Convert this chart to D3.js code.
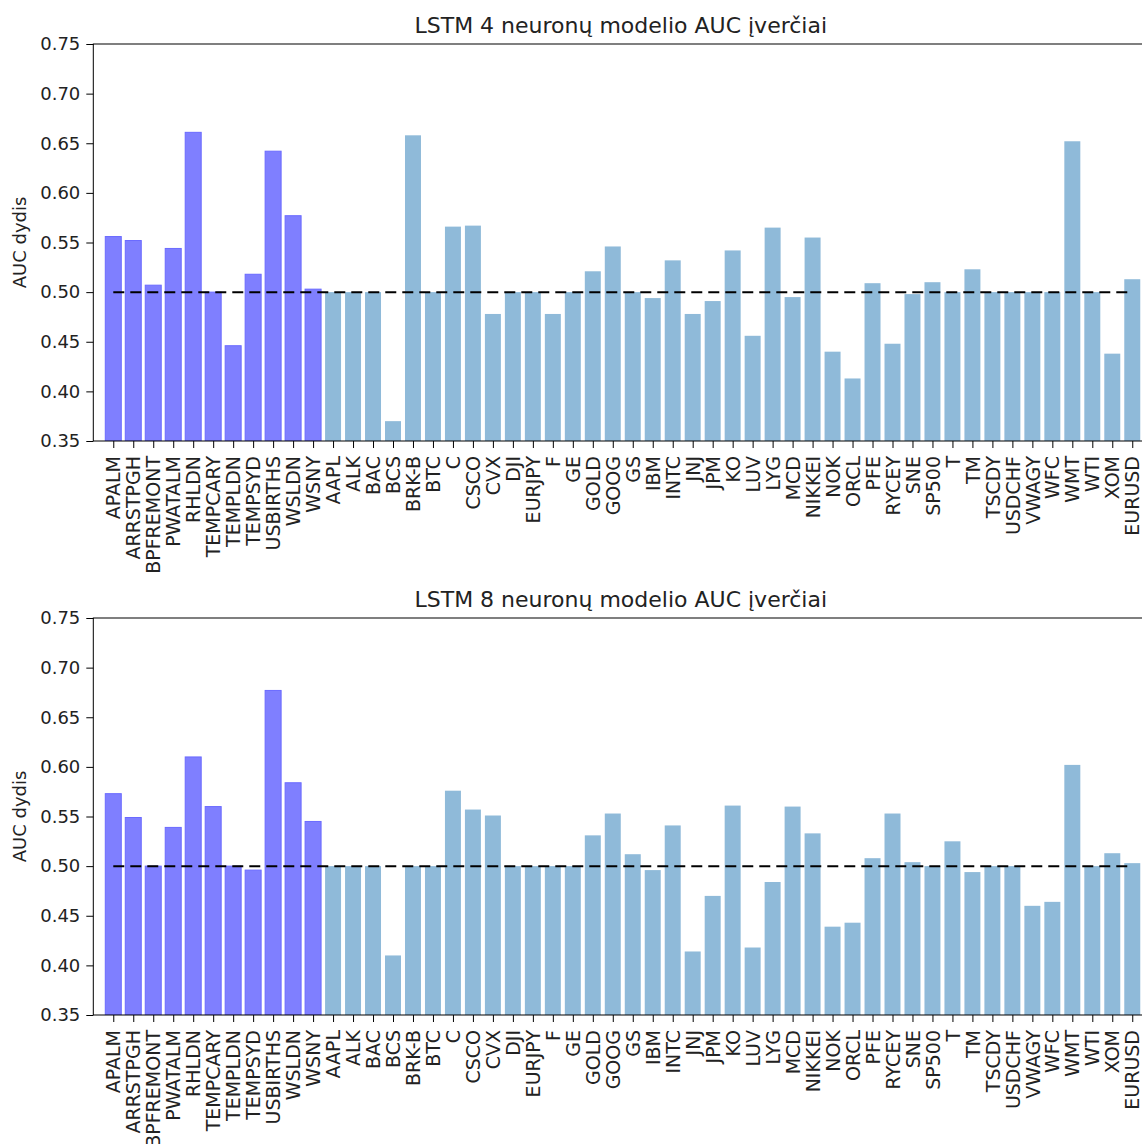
<!DOCTYPE html>
<html>
<head>
<meta charset="utf-8">
<script src="https://cdn.jsdelivr.net/npm/d3@7"></script>
<style>
  body { margin: 0; background: #fff; }
  svg { display: block; font-family: "DejaVu Sans", sans-serif; }
</style>
</head>
<body>
<svg id="chart" width="1142" height="1144"></svg>
<script>
// ---- data ----
const syntheticCats = ["APALM","ARRSTPGH","BPFREMONT","PWATALM","RHLDN","TEMPCARY","TEMPLDN","TEMPSYD","USBIRTHS","WSLDN","WSNY"];
const realCats = ["AAPL","ALK","BAC","BCS","BRK-B","BTC","C","CSCO","CVX","DJI","EURJPY","F","GE","GOLD","GOOG","GS","IBM","INTC","JNJ","JPM","KO","LUV","LYG","MCD","NIKKEI","NOK","ORCL","PFE","RYCEY","SNE","SP500","T","TM","TSCDY","USDCHF","VWAGY","WFC","WMT","WTI","XOM","EURUSD"];

const lstm4Synthetic = [0.556,0.552,0.507,0.544,0.661,0.500,0.446,0.518,0.642,0.577,0.503];
const lstm4Real = [0.500,0.500,0.500,0.370,0.658,0.500,0.566,0.567,0.478,0.500,0.500,0.478,0.500,0.521,0.546,0.500,0.494,0.532,0.478,0.491,0.542,0.456,0.565,0.495,0.555,0.440,0.413,0.509,0.448,0.498,0.510,0.500,0.523,0.500,0.500,0.500,0.500,0.652,0.500,0.438,0.513];

const lstm8Synthetic = [0.573,0.549,0.500,0.539,0.610,0.560,0.500,0.496,0.677,0.584,0.545];
const lstm8Real = [0.500,0.500,0.500,0.410,0.500,0.500,0.576,0.557,0.551,0.500,0.500,0.500,0.500,0.531,0.553,0.512,0.496,0.541,0.414,0.470,0.561,0.418,0.484,0.560,0.533,0.439,0.443,0.508,0.553,0.504,0.500,0.525,0.494,0.500,0.500,0.460,0.464,0.602,0.500,0.513,0.503];

const yTicks = [0.35,0.40,0.45,0.50,0.55,0.60,0.65,0.70,0.75];
const titles = ["LSTM 4 neuronų modelio AUC įverčiai", "LSTM 8 neuronų modelio AUC įverčiai"];
const yLabel = "AUC dydis";
const baseline = 0.5;

// ---- drawing ----
const svg = d3.select("#chart");
const allCats = syntheticCats.concat(realCats);
const panels = [
  {title: titles[0], syn: lstm4Synthetic, real: lstm4Real, top: 44, bottom: 441},
  {title: titles[1], syn: lstm8Synthetic, real: lstm8Real, top: 618, bottom: 1015}
];
const left = 93.3, unit = 19.98;
const x = d3.scaleLinear().domain([-1, 52]).range([left, left + 53 * unit]);
const barW = 0.8;

panels.forEach(p => {
  const y = d3.scaleLinear().domain([0.35, 0.75]).range([p.bottom, p.top]);
  const g = svg.append("g");
  const clipId = "clip" + p.top;
  g.append("clipPath").attr("id", clipId).append("rect")
    .attr("x", x(-1)).attr("y", p.top).attr("width", x(52) - x(-1)).attr("height", p.bottom - p.top);

  const data = syntheticCats.map((c, i) => ({cat: c, v: p.syn[i], syn: true}))
    .concat(realCats.map((c, i) => ({cat: c, v: p.real[i], syn: false})));

  const bars = g.append("g").attr("clip-path", `url(#${clipId})`);
  bars.selectAll("rect").data(data).join("rect")
    .attr("x", (d, i) => x(i - barW / 2))
    .attr("width", x(barW) - x(0))
    .attr("y", d => y(d.v))
    .attr("height", d => y(0.35) - y(d.v))
    .attr("fill", d => d.syn ? "#7f7fff" : "#8fbad9")
    .attr("stroke", d => d.syn ? "#6a6aff" : "none")
    .attr("stroke-width", 1);

  // dashed baseline
  bars.append("line")
    .attr("x1", x(0)).attr("x2", x(allCats.length - 1))
    .attr("y1", y(baseline)).attr("y2", y(baseline))
    .attr("stroke", "#000").attr("stroke-width", 2)
    .attr("stroke-dasharray", "11,6");

  // frame
  g.append("rect").attr("x", x(-1)).attr("y", p.top)
    .attr("width", x(52) - x(-1)).attr("height", p.bottom - p.top)
    .attr("fill", "none").attr("stroke", "#000").attr("stroke-width", 1);

  // y axis
  const ya = g.append("g").attr("transform", `translate(${x(-1)},0)`)
    .call(d3.axisLeft(y).tickValues(yTicks).tickFormat(d3.format(".2f")).tickSize(7).tickPadding(6));
  ya.select(".domain").remove();
  ya.selectAll("text").attr("font-size", 18).attr("fill", "#222").attr("font-family", "DejaVu Sans");
  ya.selectAll("line").attr("stroke", "#000");

  // x axis
  const xa = g.append("g").attr("transform", `translate(0,${p.bottom})`)
    .call(d3.axisBottom(x).tickValues(d3.range(allCats.length)).tickFormat(i => allCats[i]).tickSize(7).tickPadding(8));
  xa.select(".domain").remove();
  xa.selectAll("line").attr("stroke", "#000");
  xa.selectAll("text")
    .attr("font-size", 19).attr("fill", "#222").attr("font-family", "DejaVu Sans")
    .attr("text-anchor", "end")
    .attr("transform", "rotate(-90)")
    .attr("x", -15).attr("y", 0).attr("dy", "0.35em");

  // title
  g.append("text").attr("x", (x(-1) + x(52)) / 2 - 2).attr("y", p.top - 11)
    .attr("text-anchor", "middle").attr("font-size", 22).attr("fill", "#222")
    .text(p.title);

  // y label
  g.append("text")
    .attr("transform", `translate(26,${(p.top + p.bottom) / 2}) rotate(-90)`)
    .attr("text-anchor", "middle").attr("font-size", 18).attr("fill", "#222")
    .text(yLabel);
});
</script>
</body>
</html>
